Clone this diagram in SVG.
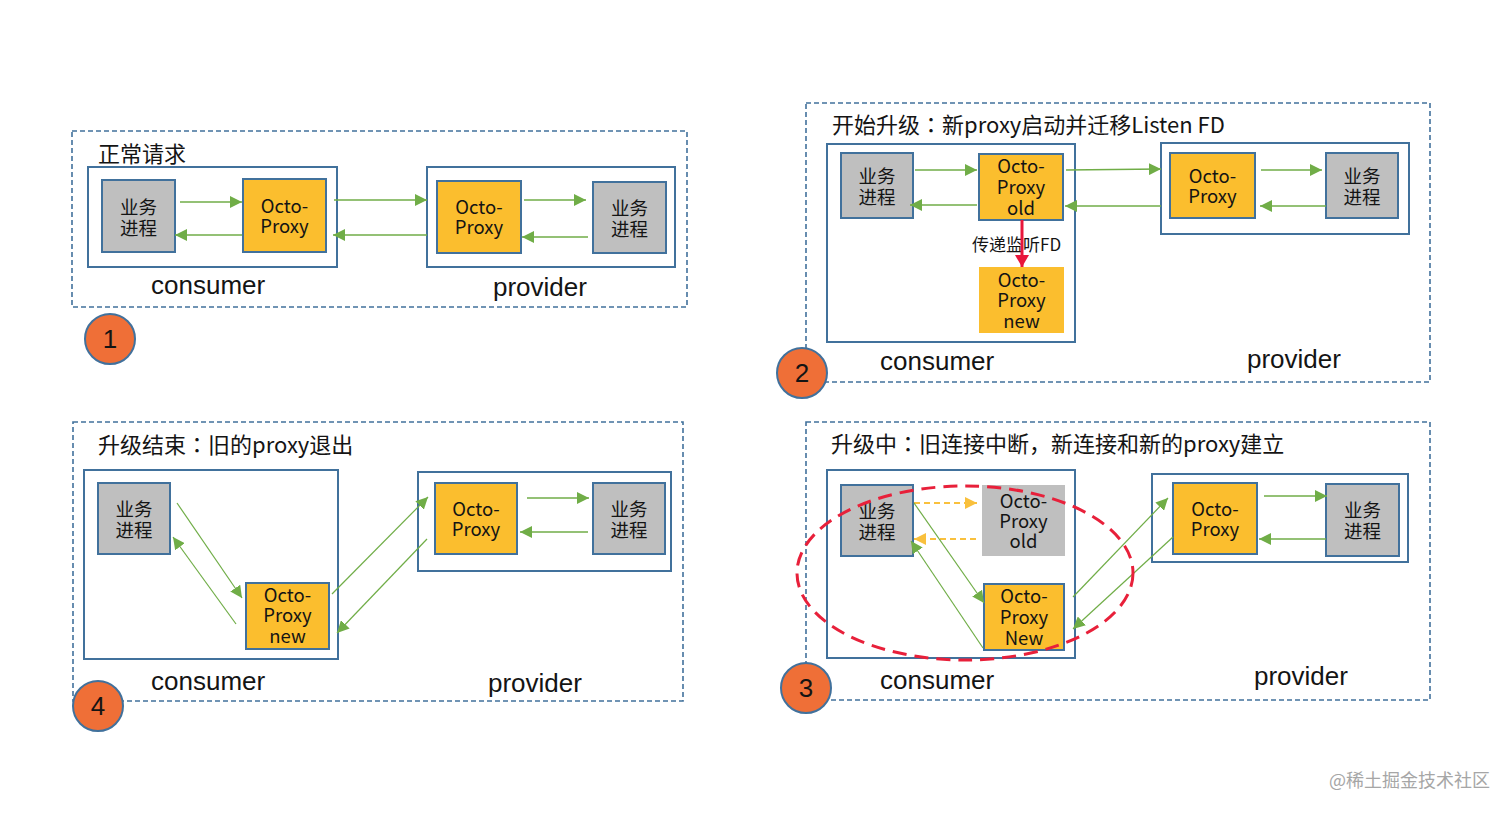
<svg xmlns="http://www.w3.org/2000/svg" width="1512" height="813" viewBox="0 0 1512 813">
<style>
.panel{fill:none;stroke:#41719c;stroke-width:1.6;stroke-dasharray:5 3}
.cont{fill:#fff;stroke:#41719c;stroke-width:2}
.gray{fill:#bfbfbf;stroke:#41719c;stroke-width:2}
.grayn{fill:#bfbfbf;stroke:none}
.yel{fill:#fbbe2e;stroke:#41719c;stroke-width:2}
.yeln{fill:#fbbe2e;stroke:none}
.t{font-family:"Noto Sans CJK SC","Microsoft YaHei",sans-serif;fill:#141414}
.node{font-size:18.5px;text-anchor:middle}
.title{font-size:22px}
.jp{font-family:"Noto Sans CJK JP","Noto Sans CJK SC",sans-serif}
.lbl{font-family:"Liberation Sans",Arial,sans-serif;font-size:26px;fill:#141414}
.g{stroke:#70ad47;stroke-width:1.5;fill:none;marker-end:url(#ag)}
.gt{stroke:#70ad47;stroke-width:1.2;fill:none;marker-end:url(#ag)}
.y{stroke:#f9c03d;stroke-width:2;stroke-dasharray:6 4;fill:none;marker-end:url(#ay)}
.r{stroke:#e8163b;stroke-width:3;fill:none;marker-end:url(#ar)}
.num circle{fill:#ef6f37;stroke:#41719c;stroke-width:2}
.num text{font-family:"Liberation Sans",Arial,sans-serif;font-size:26px;text-anchor:middle;fill:#141414}
</style>
<defs>
<marker id="ag" markerUnits="userSpaceOnUse" markerWidth="13" markerHeight="12" refX="12" refY="6" orient="auto"><path d="M0,0 L12,6 L0,12 z" fill="#70ad47"/></marker>
<marker id="ay" markerUnits="userSpaceOnUse" markerWidth="13" markerHeight="12" refX="12" refY="6" orient="auto"><path d="M0,0 L12,6 L0,12 z" fill="#f9c03d"/></marker>
<marker id="ar" markerUnits="userSpaceOnUse" markerWidth="13" markerHeight="14" refX="12" refY="7" orient="auto"><path d="M0,0 L12,7 L0,14 z" fill="#e8163b"/></marker>
</defs>
<rect width="1512" height="813" fill="#fff"/>

<!-- Panel 1 -->
<g id="panel1">
<rect class="panel" x="72" y="131" width="615" height="176"/>
<text class="t title" x="98" y="162">正常请求</text>
<g id="p1-consumer"><rect class="cont" x="88" y="167" width="249" height="100"/></g>
<g id="p1-provider"><rect class="cont" x="427" y="167" width="248" height="100"/></g>
<g id="p1-biz-c"><rect class="gray" x="102" y="180" width="73" height="72"/><text class="t node" x="138.5" y="214">业务<tspan x="138.5" dy="21">进程</tspan></text></g>
<g id="p1-octo-c"><rect class="yel" x="243" y="179" width="83" height="73"/><text class="t node" x="284.5" y="213">Octo-<tspan x="284.5" dy="20">Proxy</tspan></text></g>
<g id="p1-octo-p"><rect class="yel" x="437" y="181" width="84" height="72"/><text class="t node" x="479" y="214">Octo-<tspan x="479" dy="20">Proxy</tspan></text></g>
<g id="p1-biz-p"><rect class="gray" x="593" y="182" width="73" height="71"/><text class="t node" x="629.5" y="215">业务<tspan x="629.5" dy="21">进程</tspan></text></g>
<text class="lbl" x="151" y="294">consumer</text>
<text class="lbl" x="493" y="296">provider</text>
<g id="n1" class="num"><circle cx="110" cy="339" r="25"/><text x="110" y="348">1</text></g>
</g>

<!-- Panel 2 -->
<g id="panel2">
<rect class="panel" x="806" y="103" width="624" height="279"/>
<text class="t title" x="832" y="133">开始升级<tspan class="jp">：</tspan>新proxy启动并迁移Listen FD</text>
<g id="p2-consumer"><rect class="cont" x="827" y="144" width="248" height="198"/></g>
<g id="p2-provider"><rect class="cont" x="1161" y="143" width="248" height="91"/></g>
<g id="p2-biz-c"><rect class="gray" x="841" y="153" width="72" height="65"/><text class="t node" x="877" y="183">业务<tspan x="877" dy="21">进程</tspan></text></g>
<g id="p2-octo-old"><rect class="yel" x="979" y="154" width="84" height="66"/><text class="t node" x="1021" y="173">Octo-<tspan x="1021" dy="21">Proxy</tspan><tspan x="1021" dy="21">old</tspan></text></g>
<g id="p2-octo-new"><rect class="yeln" x="979" y="267" width="85" height="66"/><text class="t node" x="1021.5" y="287">Octo-<tspan x="1021.5" dy="20">Proxy</tspan><tspan x="1021.5" dy="21">new</tspan></text></g>
<g id="p2-octo-p"><rect class="yel" x="1170" y="153" width="85" height="65"/><text class="t node" x="1212.5" y="183">Octo-<tspan x="1212.5" dy="20">Proxy</tspan></text></g>
<g id="p2-biz-p"><rect class="gray" x="1326" y="153" width="72" height="65"/><text class="t node" x="1362" y="183">业务<tspan x="1362" dy="21">进程</tspan></text></g>
<text class="t" x="972" y="251" font-size="17">传递监听FD</text>
<text class="lbl" x="880" y="370">consumer</text>
<text class="lbl" x="1247" y="368">provider</text>
<g id="n2" class="num"><circle cx="802" cy="373" r="25"/><text x="802" y="382">2</text></g>
</g>

<!-- Panel 4 -->
<g id="panel4">
<rect class="panel" x="73" y="422" width="610" height="279"/>
<text class="t title" x="98" y="453">升级结束<tspan class="jp">：</tspan>旧的proxy退出</text>
<g id="p4-consumer"><rect class="cont" x="84" y="470" width="254" height="189"/></g>
<g id="p4-provider"><rect class="cont" x="418" y="472" width="253" height="99"/></g>
<g id="p4-biz-c"><rect class="gray" x="98" y="483" width="72" height="71"/><text class="t node" x="134" y="516">业务<tspan x="134" dy="21">进程</tspan></text></g>
<g id="p4-octo-new"><rect class="yel" x="246" y="583" width="83" height="66"/><text class="t node" x="287.5" y="602">Octo-<tspan x="287.5" dy="20">Proxy</tspan><tspan x="287.5" dy="21">new</tspan></text></g>
<g id="p4-octo-p"><rect class="yel" x="435" y="483" width="82" height="71"/><text class="t node" x="476" y="516">Octo-<tspan x="476" dy="20">Proxy</tspan></text></g>
<g id="p4-biz-p"><rect class="gray" x="593" y="483" width="72" height="71"/><text class="t node" x="629" y="516">业务<tspan x="629" dy="21">进程</tspan></text></g>
<text class="lbl" x="151" y="690">consumer</text>
<text class="lbl" x="488" y="692">provider</text>
<g id="n4" class="num"><circle cx="98" cy="706" r="25"/><text x="98" y="715">4</text></g>
</g>

<!-- Panel 3 -->
<g id="panel3">
<rect class="panel" x="806" y="422" width="624" height="278"/>
<text class="t title" x="831" y="452">升级中<tspan class="jp">：</tspan>旧连接中断，新连接和新的proxy建立</text>
<g id="p3-consumer"><rect class="cont" x="827" y="470" width="248" height="188"/></g>
<g id="p3-provider"><rect class="cont" x="1152" y="474" width="256" height="88"/></g>
<g id="p3-biz-c"><rect class="gray" x="841" y="485" width="72" height="71"/><text class="t node" x="877" y="518">业务<tspan x="877" dy="21">进程</tspan></text></g>
<g id="p3-octo-old"><rect class="grayn" x="982" y="485" width="83" height="71"/><text class="t node" x="1023.5" y="508">Octo-<tspan x="1023.5" dy="20">Proxy</tspan><tspan x="1023.5" dy="20">old</tspan></text></g>
<g id="p3-octo-new"><rect class="yel" x="984" y="584" width="80" height="66"/><text class="t node" x="1024" y="603">Octo-<tspan x="1024" dy="21">Proxy</tspan><tspan x="1024" dy="21">New</tspan></text></g>
<g id="p3-octo-p"><rect class="yel" x="1173" y="483" width="84" height="71"/><text class="t node" x="1215" y="516">Octo-<tspan x="1215" dy="20">Proxy</tspan></text></g>
<g id="p3-biz-p"><rect class="gray" x="1326" y="484" width="73" height="72"/><text class="t node" x="1362.5" y="517">业务<tspan x="1362.5" dy="21">进程</tspan></text></g>
<text class="lbl" x="880" y="689">consumer</text>
<text class="lbl" x="1254" y="685">provider</text>
<g id="n3" class="num"><circle cx="806" cy="688" r="25"/><text x="806" y="697">3</text></g>
</g>

<!-- Connectors -->
<g id="connectors">
<line class="g" x1="180" y1="202" x2="242" y2="202"/>
<line class="g" x1="242" y1="235" x2="175" y2="235"/>
<line class="g" x1="334" y1="200" x2="427" y2="200"/>
<line class="g" x1="427" y1="235" x2="333" y2="235"/>
<line class="g" x1="524" y1="200" x2="586" y2="200"/>
<line class="g" x1="588" y1="237" x2="522" y2="237"/>

<line class="g" x1="915" y1="170" x2="977" y2="170"/>
<line class="g" x1="977" y1="205" x2="910" y2="205"/>
<line class="g" x1="1066" y1="170" x2="1161" y2="169"/>
<line class="g" x1="1161" y1="206" x2="1065" y2="206"/>
<line class="g" x1="1261" y1="170" x2="1322" y2="170"/>
<line class="g" x1="1326" y1="206" x2="1260" y2="206"/>
<line class="r" x1="1022" y1="220" x2="1022" y2="267"/>

<line class="gt" x1="177" y1="503" x2="242" y2="598"/>
<line class="gt" x1="236" y1="624" x2="173" y2="537"/>
<line class="gt" x1="332" y1="594" x2="428" y2="497"/>
<line class="gt" x1="427" y1="539" x2="337" y2="633"/>
<line class="g" x1="527" y1="498" x2="589" y2="498"/>
<line class="g" x1="588" y1="532" x2="520" y2="532"/>

<line class="y" x1="914" y1="503" x2="977" y2="503"/>
<line class="y" x1="976" y1="539" x2="914" y2="539"/>
<line class="gt" x1="914" y1="503" x2="984" y2="603"/>
<line class="gt" x1="983" y1="648" x2="911" y2="541"/>
<line class="gt" x1="1073" y1="597" x2="1168" y2="498"/>
<line class="gt" x1="1173" y1="537" x2="1073" y2="629"/>
<line class="g" x1="1264" y1="496" x2="1327" y2="496"/>
<line class="g" x1="1326" y1="539" x2="1259" y2="539"/>
<ellipse cx="965" cy="573" rx="168" ry="87" fill="none" stroke="#e8203a" stroke-width="3" stroke-dasharray="14 8"/>
</g>

<text class="t" x="1329" y="787" font-size="18" style="fill:#a6a6a6">@稀土掘金技术社区</text>
</svg>
